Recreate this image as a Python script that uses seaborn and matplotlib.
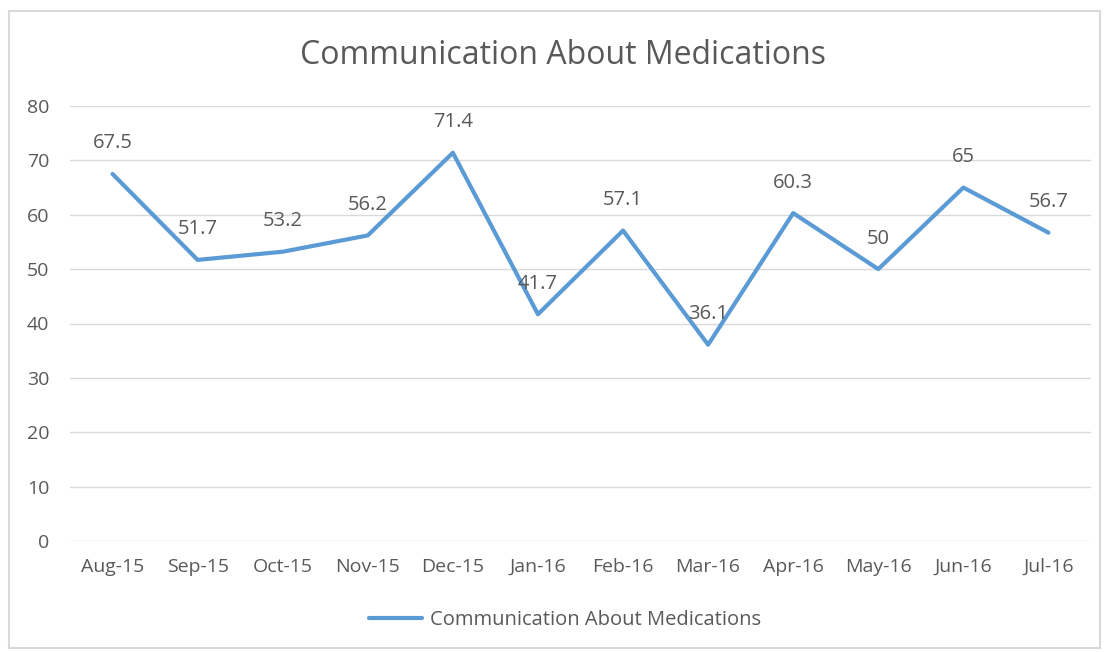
import pandas as pd
import matplotlib.pyplot as plt
import seaborn as sns
from matplotlib.patches import Rectangle

# 数据
months = ['Aug-15', 'Sep-15', 'Oct-15', 'Nov-15', 'Dec-15', 'Jan-16',
          'Feb-16', 'Mar-16', 'Apr-16', 'May-16', 'Jun-16', 'Jul-16']
scores = [67.5, 51.7, 53.2, 56.2, 71.4, 41.7, 57.1, 36.1, 60.3, 50, 65, 56.7]
labels = ['67.5', '51.7', '53.2', '56.2', '71.4', '41.7', '57.1', '36.1', '60.3', '50', '65', '56.7']
series_name = 'Communication About Medications'

sns.set_theme(style='white')
plt.rcParams['font.family'] = ['Open Sans', 'DejaVu Sans']
TEXT = '#595959'
LINE = '#5B9BD5'

df = pd.DataFrame({'month': months, 'score': scores, 'pos': range(len(months))})

fig = plt.figure(figsize=(11.08, 6.52), dpi=100)
ax = fig.add_axes([70 / 1108, 1 - 541 / 652, (1091 - 70) / 1108, (541 - 106) / 652])

sns.lineplot(data=df, x='pos', y='score', ax=ax, color=LINE, linewidth=3,
             label=series_name, legend=False)

for x, y, t in zip(df['pos'], df['score'], labels):
    ax.annotate(t, (x, y), xytext=(0, 22), textcoords='offset points',
                ha='center', va='center', fontsize=14.5, color=TEXT)

ax.set_xlim(-0.5, len(months) - 0.5)
ax.set_ylim(0, 80)
ax.set_yticks(range(0, 81, 10))
ax.set_xticks(range(len(months)))
ax.set_xticklabels(months)
ax.set_xlabel('')
ax.set_ylabel('')
ax.tick_params(axis='both', labelsize=14, colors=TEXT, length=0)
ax.tick_params(axis='y', pad=15)
ax.tick_params(axis='x', pad=12)
ax.yaxis.grid(True, color='#D9D9D9', linewidth=1)
for s in ax.spines.values():
    s.set_visible(False)

fig.suptitle(series_name, x=0.508, y=1 - 55 / 652, va='center', fontsize=23, color=TEXT)

handles, lbls = ax.get_legend_handles_labels()
fig.legend(handles, lbls, loc='center', bbox_to_anchor=(0.51, 1 - 620 / 652),
           frameon=False, fontsize=14.5, labelcolor=TEXT, handlelength=2.6,
           handletextpad=0.4)

# 图表外框
fig.patches.append(Rectangle((9 / 1108, 1 - 648 / 652), (1100 - 9) / 1108, (648 - 11) / 652,
                             transform=fig.transFigure, fill=False,
                             edgecolor='#D9D9D9', linewidth=1.5))

fig.savefig('out.png', dpi=100)
